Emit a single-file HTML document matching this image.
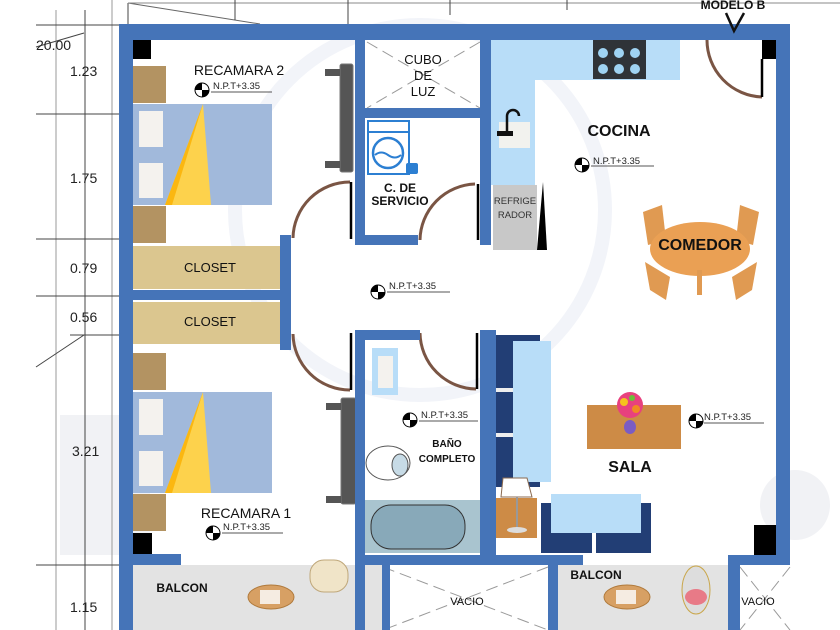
<!DOCTYPE html>
<html><head><meta charset="utf-8"><style>
html,body{margin:0;padding:0;background:#fff;width:840px;height:630px;overflow:hidden}
svg{display:block}
text{font-family:"Liberation Sans",sans-serif}
</style></head><body>
<svg width="840" height="630" viewBox="0 0 840 630" xmlns="http://www.w3.org/2000/svg">
<rect width="840" height="630" fill="#fff"/>
<!-- watermark -->
<g fill="#f1f2f5">
<circle cx="420" cy="210" r="185" fill="none" stroke="#f2f4f9" stroke-width="14"/>
<rect x="60" y="415" width="90" height="140"/>
<rect x="760" y="470" width="70" height="70" rx="35"/>
</g>
<!-- dimension lines -->
<g stroke="#444" stroke-width="1" fill="none">
<line x1="85" y1="10" x2="85" y2="630"/>
<line x1="56" y1="10" x2="56" y2="630" stroke="#999"/>
<line x1="112" y1="0" x2="112" y2="630" stroke="#999"/>
<line x1="36" y1="25" x2="119" y2="25"/>
<line x1="36" y1="114" x2="119" y2="114"/>
<line x1="36" y1="239" x2="119" y2="239"/>
<line x1="36" y1="296" x2="119" y2="296"/>
<line x1="70" y1="335" x2="119" y2="335"/>
<line x1="36" y1="565" x2="119" y2="565"/>
<line x1="36" y1="47" x2="84" y2="33"/>
<line x1="36" y1="367" x2="84" y2="335"/>
<line x1="128" y1="3" x2="260" y2="24" stroke="#666"/>
<line x1="128" y1="3" x2="128" y2="24"/>
<line x1="128" y1="3" x2="840" y2="3" stroke="#888"/>
<line x1="235" y1="0" x2="235" y2="20"/>
<line x1="348" y1="0" x2="348" y2="24"/>
<line x1="450" y1="0" x2="450" y2="15"/>
<line x1="567" y1="0" x2="567" y2="10"/>
</g>
<g font-size="14" fill="#222">
<text x="36" y="50">20.00</text>
<text x="70" y="76">1.23</text>
<text x="70" y="183">1.75</text>
<text x="70" y="273">0.79</text>
<text x="70" y="322">0.56</text>
<text x="72" y="456">3.21</text>
<text x="70" y="612">1.15</text>
</g>
<!-- balconies and vacio -->
<rect x="128" y="565" width="254" height="65" fill="#e3e3e3"/>
<rect x="558" y="565" width="170" height="65" fill="#e3e3e3"/>
<g stroke="#999" stroke-width="1" stroke-dasharray="12 6">
<line x1="383" y1="567" x2="548" y2="630"/><line x1="548" y1="567" x2="383" y2="630"/>
<line x1="740" y1="567" x2="790" y2="630"/><line x1="790" y1="567" x2="740" y2="630"/>
<line x1="367" y1="42" x2="480" y2="108"/><line x1="480" y1="42" x2="367" y2="108"/>
</g>
<!-- kitchen counter -->
<rect x="491" y="40" width="44" height="145" fill="#b8ddf8"/>
<rect x="535" y="40" width="145" height="40" fill="#b8ddf8"/>
<rect x="593" y="40" width="53" height="39" fill="#2f3338"/>
<g fill="#9fd3f3"><circle cx="603" cy="53" r="5"/><circle cx="619" cy="53" r="5"/><circle cx="635" cy="53" r="5"/><circle cx="603" cy="69" r="5"/><circle cx="619" cy="69" r="5"/><circle cx="635" cy="69" r="5"/></g>
<rect x="499" y="122" width="31" height="26" fill="#f2f2ee"/>
<path d="M507 136 v-20 a6 6 0 0 1 12 0" stroke="#111" stroke-width="2.5" fill="none"/>
<rect x="497" y="131" width="16" height="5" fill="#111"/>
<rect x="493" y="185" width="44" height="65" fill="#c8c8c8"/>
<text x="515" y="204" font-size="9.5" text-anchor="middle" fill="#333">REFRIGE</text>
<text x="515" y="218" font-size="9.5" text-anchor="middle" fill="#333">RADOR</text>
<path d="M537 250 L543 182 L547 250 Z" fill="#000"/>
<!-- bedroom 2 -->
<rect x="133" y="40" width="18" height="19" fill="#000"/>
<rect x="133" y="66" width="33" height="37" fill="#b39362"/>
<rect x="133" y="104" width="139" height="101" fill="#a1b9db"/>
<rect x="139" y="111" width="24" height="36" fill="#f4f2ee"/>
<rect x="139" y="163" width="24" height="35" fill="#f4f2ee"/>
<path d="M203 104 L165 205 L211 205 Z" fill="#fdd24c"/>
<path d="M203 104 L165 205 L172 205 Z" fill="#fbb710"/>
<rect x="133" y="206" width="33" height="37" fill="#b39362"/>
<rect x="133" y="246" width="147" height="43" fill="#dbc68f"/>
<rect x="133" y="302" width="147" height="42" fill="#dbc68f"/>
<text x="210" y="272" font-size="13" text-anchor="middle" fill="#111">CLOSET</text>
<text x="210" y="326" font-size="13" text-anchor="middle" fill="#111">CLOSET</text>
<!-- bedroom 1 -->
<rect x="133" y="353" width="33" height="37" fill="#b39362"/>
<rect x="133" y="392" width="139" height="101" fill="#a1b9db"/>
<rect x="139" y="399" width="24" height="36" fill="#f4f2ee"/>
<rect x="139" y="451" width="24" height="35" fill="#f4f2ee"/>
<path d="M203 392 L165 493 L211 493 Z" fill="#fdd24c"/>
<path d="M203 392 L165 493 L172 493 Z" fill="#fbb710"/>
<rect x="133" y="494" width="33" height="37" fill="#b39362"/>
<rect x="133" y="533" width="19" height="21" fill="#000"/>
<!-- wardrobes -->
<g fill="#555" stroke="#777"><rect x="340" y="64" width="13" height="108" rx="2"/><rect x="341" y="398" width="15" height="106" rx="2"/></g>
<g fill="#555"><rect x="325" y="69" width="15" height="7"/><rect x="325" y="161" width="15" height="7"/><rect x="326" y="403" width="15" height="7"/><rect x="326" y="496" width="15" height="7"/></g>
<!-- bathroom fixtures -->
<rect x="372" y="348" width="26" height="47" fill="#b8ddf8"/>
<rect x="378" y="356" width="15" height="32" fill="#f4f2ee"/>
<rect x="365" y="500" width="115" height="53" fill="#a9c4cf"/>
<rect x="371" y="505" width="94" height="44" rx="20" fill="#88a9b9" stroke="#333"/>
<ellipse cx="388" cy="463" rx="22" ry="17" fill="#fff" stroke="#555"/>
<ellipse cx="400" cy="465" rx="8" ry="11" fill="#c7dbe6" stroke="#555"/>
<!-- living -->
<rect x="496" y="335" width="44" height="152" fill="#223e75"/>
<rect x="513" y="341" width="38" height="141" fill="#b8ddf8"/>
<rect x="496" y="388" width="17" height="4" fill="#eee"/><rect x="496" y="433" width="17" height="4" fill="#eee"/>
<rect x="496" y="498" width="41" height="40" fill="#cd8b46"/>
<path d="M503 478 L527 478 L532 497 L501 497 Z" fill="#fff" stroke="#8a6a50"/>
<line x1="517" y1="497" x2="517" y2="530" stroke="#999" stroke-width="2"/>
<ellipse cx="517" cy="530" rx="10" ry="3" fill="#ddd"/>
<rect x="541" y="503" width="110" height="50" fill="#223e75"/>
<rect x="551" y="494" width="90" height="39" fill="#b8ddf8"/>
<rect x="592" y="533" width="4" height="20" fill="#fff"/>
<rect x="587" y="405" width="94" height="44" fill="#cd8b46"/>
<ellipse cx="630" cy="427" rx="6" ry="7" fill="#7a5cc4"/>
<circle cx="630" cy="405" r="13" fill="#e8417e"/><circle cx="624" cy="402" r="4" fill="#f6c21d"/><circle cx="636" cy="409" r="4" fill="#f08a24"/><circle cx="632" cy="398" r="3" fill="#6bbf3a"/>
<rect x="754" y="525" width="22" height="30" fill="#000"/>
<!-- comedor -->
<g fill="#e09a52">
<path d="M643 212 L662 205 L666 240 L648 245 Z"/>
<path d="M740 205 L759 212 L753 245 L736 240 Z"/>
<path d="M645 262 L670 277 L666 300 L650 290 Z"/>
<path d="M757 262 L732 277 L736 300 L752 290 Z"/>
<ellipse cx="700" cy="249" rx="50" ry="27" fill="#eaa054"/>
<rect x="697" y="270" width="5" height="25"/>
</g>
<!-- balcony furniture -->
<ellipse cx="271" cy="597" rx="23" ry="12" fill="#d7a064" stroke="#b07a3c"/>
<rect x="260" y="590" width="20" height="14" fill="#f5ece2"/>
<rect x="310" y="560" width="38" height="32" rx="14" fill="#f0e4c8" stroke="#bfa77a"/>
<ellipse cx="627" cy="597" rx="23" ry="12" fill="#d7a064" stroke="#b07a3c"/>
<rect x="616" y="590" width="20" height="14" fill="#f5ece2"/>
<ellipse cx="696" cy="590" rx="14" ry="24" fill="#ddd" stroke="#c9a64a"/>
<ellipse cx="696" cy="597" rx="11" ry="8" fill="#e87a87"/>
<!-- door arcs -->
<g fill="none" stroke="#7a5544" stroke-width="3">
<path d="M350 182 A57 57 0 0 0 293 238"/>
<path d="M475 184 A57 57 0 0 0 420 240"/>
<path d="M293 334 A57 57 0 0 0 350 390"/>
<path d="M420 333 A57 57 0 0 0 476 389"/>
<path d="M707 40 A57 57 0 0 0 762 97"/>
</g>
<g stroke="#000" stroke-width="2.5"><line x1="351" y1="182" x2="351" y2="239"/><line x1="478" y1="184" x2="478" y2="240"/><line x1="351" y1="333" x2="351" y2="390"/><line x1="477" y1="333" x2="477" y2="389"/><line x1="762" y1="59" x2="762" y2="97"/></g>
<rect x="762" y="40" width="14" height="19" fill="#000"/>
<!-- walls -->
<g fill="#4574b8">
<rect x="119" y="24" width="671" height="16"/>
<rect x="119" y="24" width="14" height="606"/>
<rect x="776" y="24" width="14" height="541"/>
<rect x="280" y="235" width="11" height="115"/>
<rect x="133" y="290" width="147" height="10"/>
<rect x="355" y="40" width="10" height="205"/>
<rect x="480" y="40" width="11" height="205"/>
<rect x="365" y="108" width="115" height="10"/>
<rect x="365" y="235" width="53" height="10"/>
<rect x="355" y="330" width="65" height="10"/>
<rect x="355" y="330" width="10" height="300"/>
<rect x="480" y="330" width="16" height="230"/>
<rect x="119" y="554" width="62" height="11"/>
<rect x="355" y="555" width="228" height="10"/>
<rect x="548" y="555" width="10" height="75"/>
<rect x="728" y="555" width="62" height="10"/>
<rect x="728" y="555" width="12" height="75"/>
<rect x="382" y="565" width="8" height="65"/>
</g>
<!-- washer -->
<rect x="368" y="121" width="41" height="53" fill="#fff" stroke="#2c7fd2" stroke-width="2"/>
<line x1="368" y1="132" x2="409" y2="132" stroke="#2c7fd2" stroke-width="2"/>
<circle cx="388" cy="153" r="15" fill="#fff" stroke="#2c7fd2" stroke-width="2.5"/>
<path d="M375 155 q6 -5 13 0 t13 0" stroke="#2c7fd2" stroke-width="2" fill="none"/>
<rect x="406" y="163" width="12" height="11" rx="2" fill="#2c7fd2"/>
<!-- labels -->
<g fill="#111">
<text x="239" y="75" font-size="14" text-anchor="middle">RECAMARA 2</text>
<text x="246" y="518" font-size="14" text-anchor="middle">RECAMARA 1</text>
<text x="423" y="64" font-size="13" text-anchor="middle">CUBO</text>
<text x="423" y="80" font-size="13" text-anchor="middle">DE</text>
<text x="423" y="96" font-size="13" text-anchor="middle">LUZ</text>
<text x="400" y="192" font-size="12" font-weight="bold" text-anchor="middle">C. DE</text>
<text x="400" y="205" font-size="12" font-weight="bold" text-anchor="middle">SERVICIO</text>
<text x="619" y="136" font-size="16" font-weight="bold" text-anchor="middle">COCINA</text>
<text x="700" y="250" font-size="16" font-weight="bold" text-anchor="middle">COMEDOR</text>
<text x="630" y="472" font-size="16" font-weight="bold" text-anchor="middle">SALA</text>
<text x="447" y="447" font-size="10" font-weight="bold" text-anchor="middle">BAÑO</text>
<text x="447" y="462" font-size="10" font-weight="bold" text-anchor="middle">COMPLETO</text>
<text x="182" y="592" font-size="12" font-weight="bold" text-anchor="middle">BALCON</text>
<text x="596" y="579" font-size="12" font-weight="bold" text-anchor="middle">BALCON</text>
<text x="467" y="605" font-size="11" text-anchor="middle">VACIO</text>
<text x="758" y="605" font-size="11" text-anchor="middle">VACIO</text>
<text x="733" y="9" font-size="12" font-weight="bold" text-anchor="middle">MODELO B</text>
</g>
<path d="M726 13 L734 31 L744 13" stroke="#111" stroke-width="2.5" fill="none"/>
<!-- NPT markers -->
<g font-size="9.5" fill="#222">
<g transform="translate(202,90)"><circle r="7" fill="#fff" stroke="#000"/><path d="M0 0 L7 0 A7 7 0 0 1 0 7 Z M0 0 L-7 0 A7 7 0 0 1 0 -7 Z" fill="#000"/><text x="11" y="-1">N.P.T+3.35</text><line x1="9" y1="2" x2="70" y2="2" stroke="#555"/></g>
<g transform="translate(213,533)"><circle r="7" fill="#fff" stroke="#000"/><path d="M0 0 L7 0 A7 7 0 0 1 0 7 Z M0 0 L-7 0 A7 7 0 0 1 0 -7 Z" fill="#000"/><text x="10" y="-3">N.P.T+3.35</text><line x1="9" y1="0" x2="70" y2="0" stroke="#555"/></g>
<g transform="translate(582,165)"><circle r="7" fill="#fff" stroke="#000"/><path d="M0 0 L7 0 A7 7 0 0 1 0 7 Z M0 0 L-7 0 A7 7 0 0 1 0 -7 Z" fill="#000"/><text x="11" y="-1">N.P.T+3.35</text><line x1="9" y1="1" x2="72" y2="1" stroke="#555"/></g>
<g transform="translate(378,292)"><circle r="7" fill="#fff" stroke="#000"/><path d="M0 0 L7 0 A7 7 0 0 1 0 7 Z M0 0 L-7 0 A7 7 0 0 1 0 -7 Z" fill="#000"/><text x="11" y="-3">N.P.T+3.35</text><line x1="9" y1="0" x2="72" y2="0" stroke="#555"/></g>
<g transform="translate(410,420)"><circle r="7" fill="#fff" stroke="#000"/><path d="M0 0 L7 0 A7 7 0 0 1 0 7 Z M0 0 L-7 0 A7 7 0 0 1 0 -7 Z" fill="#000"/><text x="11" y="-2">N.P.T+3.35</text><line x1="9" y1="1" x2="68" y2="1" stroke="#555"/></g>
<g transform="translate(696,421)"><circle r="7" fill="#fff" stroke="#000"/><path d="M0 0 L7 0 A7 7 0 0 1 0 7 Z M0 0 L-7 0 A7 7 0 0 1 0 -7 Z" fill="#000"/><text x="8" y="-1">N.P.T+3.35</text><line x1="8" y1="2" x2="68" y2="2" stroke="#555"/></g>
</g>
</svg>
</body></html>
